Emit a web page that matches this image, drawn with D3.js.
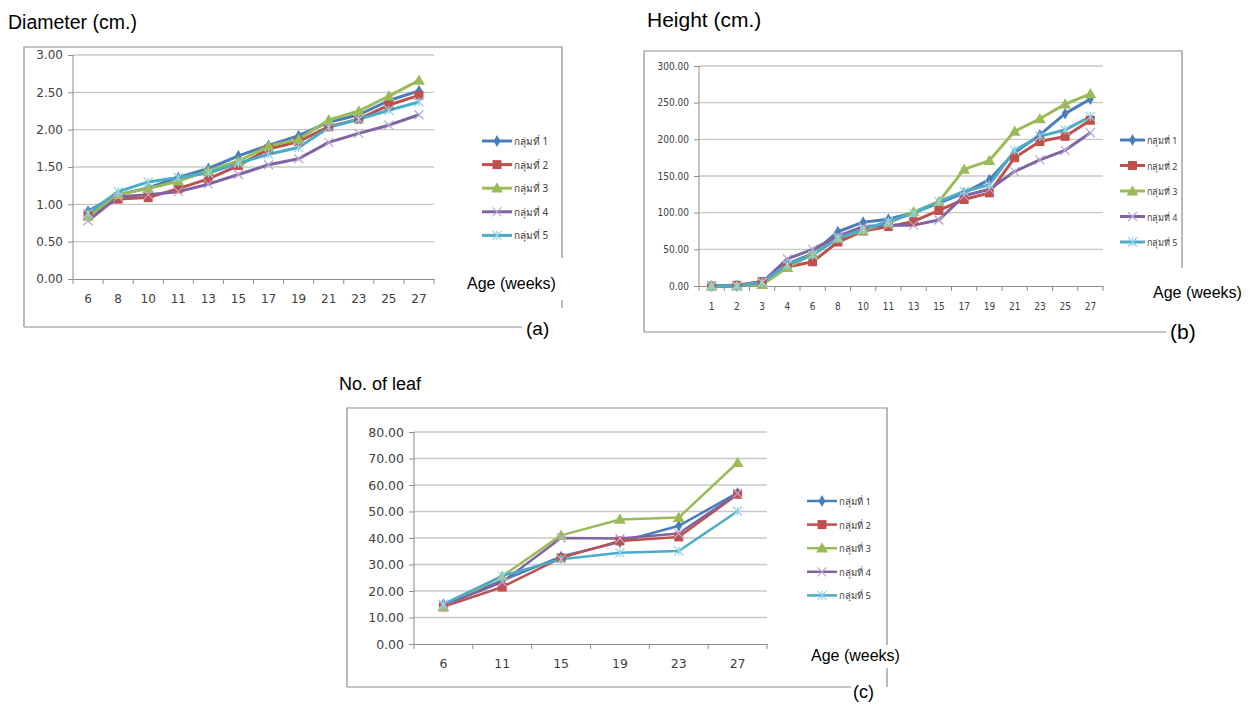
<!DOCTYPE html>
<html>
<head>
<meta charset="utf-8">
<script src="https://cdn.jsdelivr.net/npm/d3@7"></script>
<style>
  body { margin: 0; background: #fff; }
  svg { display: block; }
</style>
</head>
<body>
<svg id="chart" width="1250" height="704"></svg>
<script>
// group names + colours (Excel 2007 defaults)
const groups = ["กลุ่มที่ 1", "กลุ่มที่ 2", "กลุ่มที่ 3", "กลุ่มที่ 4", "กลุ่มที่ 5"];
const colors = ["#4a7ebb", "#c0504d", "#9bbb59", "#8064a2", "#4bacc6"];

// (a) diameter
const diamWeeks = [6, 8, 10, 11, 13, 15, 17, 19, 21, 23, 25, 27];
const diamG1 = [0.91, 1.13, 1.22, 1.36, 1.48, 1.65, 1.79, 1.92, 2.10, 2.20, 2.39, 2.52];
const diamG2 = [0.86, 1.07, 1.09, 1.21, 1.34, 1.52, 1.74, 1.84, 2.04, 2.14, 2.33, 2.46];
const diamG3 = [0.84, 1.13, 1.21, 1.31, 1.45, 1.58, 1.78, 1.87, 2.13, 2.25, 2.45, 2.66];
const diamG4 = [0.78, 1.10, 1.13, 1.17, 1.27, 1.40, 1.53, 1.61, 1.83, 1.95, 2.06, 2.20];
const diamG5 = [0.88, 1.17, 1.30, 1.36, 1.42, 1.55, 1.67, 1.76, 2.03, 2.14, 2.26, 2.37];
const diamTicks = [0, 0.5, 1, 1.5, 2, 2.5, 3];

// (b) height
const heightWeeks = [1, 2, 3, 4, 6, 8, 10, 11, 13, 15, 17, 19, 21, 23, 25, 27];
const heightG1 = [0, 0, 5, 30, 44, 74, 87, 91, 100, 113, 127, 145, 182, 206, 235, 255];
const heightG2 = [0, 1, 6, 26, 33, 60, 75, 81, 88, 103, 118, 127, 175, 197, 204, 226];
const heightG3 = [0, 0, 2, 25, 44, 65, 76, 86, 101, 115, 159, 171, 211, 228, 248, 262];
const heightG4 = [0, 0, 5, 37, 50, 68, 81, 83, 83, 90, 123, 132, 156, 172, 185, 209];
const heightG5 = [0, 0, 5, 29, 42, 65, 77, 88, 99, 115, 129, 138, 185, 204, 213, 231];
const heightTicks = [0, 50, 100, 150, 200, 250, 300];

// (c) number of leaves
const leafWeeks = [6, 11, 15, 19, 23, 27];
const leafG1 = [15, 24, 33, 38.5, 44.6, 57];
const leafG2 = [14, 21.5, 32.5, 38.9, 40.4, 56.5];
const leafG3 = [14, 25.6, 41, 47, 47.7, 68.5];
const leafG4 = [14.5, 23.4, 40, 39.8, 41.7, 56.8];
const leafG5 = [15, 25.7, 32, 34.4, 35.1, 50.1];
const leafTicks = [0, 10, 20, 30, 40, 50, 60, 70, 80];

const svg = d3.select("#chart");
const titleFont = "'Liberation Sans', Arial, sans-serif";

function marker(g, type, color, x, y, s) {
  if (type === 0) {
    g.append("path").attr("d", d3.symbol(d3.symbolDiamond, s * s * 0.5)())
      .attr("transform", `translate(${x},${y})`).attr("fill", color);
  } else if (type === 1) {
    g.append("rect").attr("x", x - s / 2).attr("y", y - s / 2)
      .attr("width", s).attr("height", s).attr("fill", color);
  } else if (type === 2) {
    g.append("path").attr("d", d3.symbol(d3.symbolTriangle, s * s * 0.75)())
      .attr("transform", `translate(${x},${y + 1})`).attr("fill", color);
  } else if (type === 3) {
    const h = s / 2;
    g.append("path").attr("d", `M${x - h},${y - h}L${x + h},${y + h}M${x - h},${y + h}L${x + h},${y - h}`)
      .attr("stroke", "#b4a7d6").attr("stroke-width", 1.2).attr("fill", "none");
  } else {
    const h = s / 2;
    g.append("path").attr("d", `M${x - h},${y - h}L${x + h},${y + h}M${x - h},${y + h}L${x + h},${y - h}M${x},${y - h}L${x},${y + h}`)
      .attr("stroke", "#8fd3e6").attr("stroke-width", 1.2).attr("fill", "none");
  }
}

function drawPanel(cfg) {
  const g = svg.append("g");
  const b = cfg.box;

  // outer frame (partly hidden behind labels, as in the original)
  const frame = d3.path();
  frame.moveTo(b.l, b.b); frame.lineTo(b.l, b.t); frame.lineTo(b.r, b.t); frame.lineTo(b.r, b.rEnd);
  frame.moveTo(b.l, b.b); frame.lineTo(b.bEnd, b.b);
  if (b.stub) { frame.moveTo(b.r, b.stub[0]); frame.lineTo(b.r, b.stub[1]); }
  g.append("path").attr("d", frame.toString()).attr("fill", "none")
    .attr("stroke", "#8c8c8c").attr("stroke-width", 1.2);

  const x = d3.scaleBand().domain(cfg.weeks).range([cfg.x0, cfg.x1]);
  const y = d3.scaleLinear().domain([0, cfg.ticks[cfg.ticks.length - 1]]).range([cfg.y0, cfg.y1]);

  // gridlines
  g.append("g").selectAll("line").data(cfg.ticks.slice(1)).join("line")
    .attr("x1", cfg.x0).attr("x2", cfg.x1)
    .attr("y1", d => y(d)).attr("y2", d => y(d))
    .attr("stroke", "#c8c8c8").attr("stroke-width", 1.3);

  // y axis
  const ya = g.append("g").attr("transform", `translate(${cfg.x0},0)`)
    .call(d3.axisLeft(y).tickValues(cfg.ticks).tickFormat(d3.format(".2f")).tickSize(5).tickPadding(5));
  ya.select(".domain").attr("stroke", "#8c8c8c").attr("d", `M-0,${cfg.y0}V${cfg.y1}`);
  ya.selectAll(".tick line").attr("stroke", "#8c8c8c");
  ya.selectAll("text").attr("fill", "#404040").style("font-family", cfg.tickFont).style("font-size", cfg.tickSize + "px");

  // x axis: ticks at category boundaries
  const xa = g.append("g").attr("transform", `translate(0,${cfg.y0})`)
    .call(d3.axisBottom(x).tickSize(0).tickPadding(cfg.xPad));
  xa.select(".domain").attr("stroke", "#8c8c8c");
  xa.selectAll("text").attr("fill", "#404040").style("font-family", cfg.tickFont).style("font-size", cfg.tickSize + "px");
  const bounds = cfg.weeks.map(w => x(w)).concat([cfg.x1]);
  g.append("g").selectAll("line").data(bounds).join("line")
    .attr("x1", d => d).attr("x2", d => d).attr("y1", cfg.y0).attr("y2", cfg.y0 + 5)
    .attr("stroke", "#8c8c8c");

  // series
  const line = d3.line().x((d, i) => x(cfg.weeks[i]) + x.bandwidth() / 2).y(d => y(d));
  cfg.series.forEach((vals, k) => {
    g.append("path").datum(vals).attr("d", line).attr("fill", "none")
      .attr("stroke", colors[k]).attr("stroke-width", cfg.lw).attr("stroke-linejoin", "round");
  });
  cfg.series.forEach((vals, k) => {
    vals.forEach((v, i) => marker(g, k, colors[k], x(cfg.weeks[i]) + x.bandwidth() / 2, y(v), cfg.ms));
  });

  // legend
  const L = cfg.legend;
  groups.forEach((name, k) => {
    const ly = L.y + k * L.dy;
    g.append("line").attr("x1", L.x).attr("x2", L.x + L.w).attr("y1", ly).attr("y2", ly)
      .attr("stroke", colors[k]).attr("stroke-width", cfg.lw);
    marker(g, k, colors[k], L.x + L.w / 2, ly, cfg.ms);
    g.append("text").attr("x", L.x + L.w + 2).attr("y", ly + 4).text(name)
      .attr("fill", "#404040").style("font-family", L.font).style("font-size", L.fs + "px");
  });

  // titles
  g.append("text").attr("x", cfg.title.x).attr("y", cfg.title.y).text(cfg.title.text)
    .style("font-family", titleFont).style("font-size", cfg.title.fs + "px").attr("fill", "#000");
  g.append("text").attr("x", cfg.age.x).attr("y", cfg.age.y).text("Age (weeks)")
    .style("font-family", titleFont).style("font-size", "16px").attr("fill", "#000");
  g.append("text").attr("x", cfg.tag.x).attr("y", cfg.tag.y).text(cfg.tag.text)
    .style("font-family", titleFont).style("font-size", cfg.tag.fs + "px").attr("fill", "#000");
}

drawPanel({
  weeks: diamWeeks, series: [diamG1, diamG2, diamG3, diamG4, diamG5], ticks: diamTicks,
  box: { l: 24, t: 47, r: 562, b: 327, rEnd: 258, bEnd: 522, stub: [300, 308] },
  x0: 73, x1: 434, y0: 279, y1: 55, xPad: 15,
  tickFont: "'DejaVu Sans', Verdana, sans-serif", tickSize: 12,
  lw: 3, ms: 9,
  legend: { x: 482, y: 141, dy: 23.6, w: 30, fs: 10, font: "'Noto Sans', 'DejaVu Sans', sans-serif" },
  title: { x: 8, y: 29, text: "Diameter (cm.)", fs: 19.5 },
  age: { x: 467, y: 289 },
  tag: { x: 526, y: 335, text: "(a)", fs: 19 }
});

drawPanel({
  weeks: heightWeeks, series: [heightG1, heightG2, heightG3, heightG4, heightG5], ticks: heightTicks,
  box: { l: 644, t: 51, r: 1182, b: 332, rEnd: 268, bEnd: 1166 },
  x0: 699, x1: 1103, y0: 286, y1: 66, xPad: 17,
  tickFont: "'DejaVu Sans Condensed', 'DejaVu Sans', sans-serif", tickSize: 10,
  lw: 3, ms: 9,
  legend: { x: 1120, y: 140, dy: 25.5, w: 25, fs: 9, font: "'Noto Sans', 'DejaVu Sans Condensed', sans-serif" },
  title: { x: 647, y: 27, text: "Height (cm.)", fs: 21 },
  age: { x: 1153, y: 298 },
  tag: { x: 1170, y: 339, text: "(b)", fs: 21 }
});

drawPanel({
  weeks: leafWeeks, series: [leafG1, leafG2, leafG3, leafG4, leafG5], ticks: leafTicks,
  box: { l: 347, t: 408, r: 887, b: 687, rEnd: 645, bEnd: 851, stub: [668, 687] },
  x0: 414, x1: 767, y0: 644, y1: 432, xPad: 15,
  tickFont: "'DejaVu Sans', Verdana, sans-serif", tickSize: 12.5,
  lw: 2.5, ms: 9,
  legend: { x: 807, y: 501, dy: 23.6, w: 30, fs: 9.5, font: "'Noto Sans', 'DejaVu Sans', sans-serif" },
  title: { x: 339, y: 390, text: "No. of leaf", fs: 18 },
  age: { x: 811, y: 661 },
  tag: { x: 853, y: 698, text: "(c)", fs: 18 }
});
</script>
</body>
</html>
